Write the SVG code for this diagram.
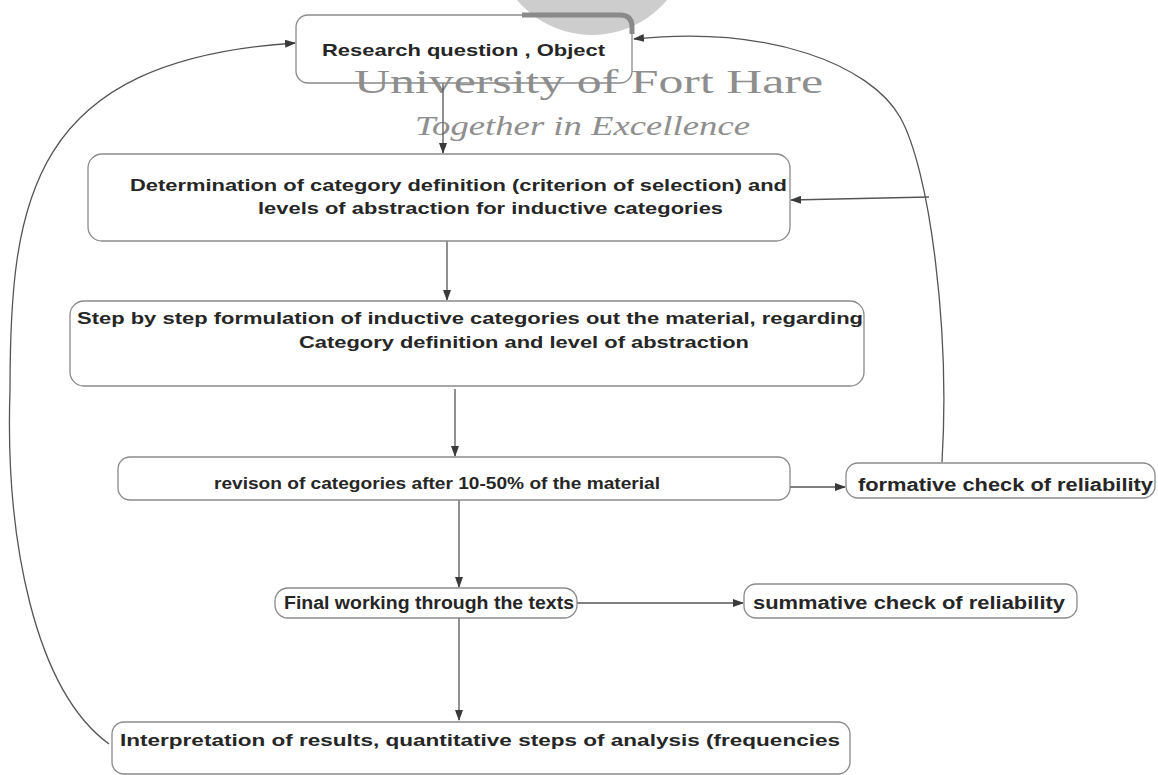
<svg xmlns="http://www.w3.org/2000/svg" width="1158" height="775" viewBox="0 0 1158 775">
<style>
.box{fill:none;stroke:#8a8a8a;stroke-width:1.3}
.t{font-family:"Liberation Sans",Arial,sans-serif;font-weight:bold;font-size:17px;fill:#262626}
.tb{font-size:18px}
.wm{font-family:"Liberation Serif","Times New Roman",serif;fill:#8e8e8e}
.c{fill:none;stroke:#555;stroke-width:1.3}
</style>
<defs>
<marker id="ah" markerUnits="userSpaceOnUse" markerWidth="11" markerHeight="8" refX="10" refY="4" orient="auto">
<path d="M0,0 L11,4 L0,8 z" fill="#3a3a3a"/>
</marker>
</defs>
<rect width="1158" height="775" fill="#ffffff"/>
<g id="watermark">
<circle cx="592" cy="-63" r="98" fill="#cdcdcd"/>
<path d="M522,15 L620,15 Q632,15 632,27 L632,34" fill="none" stroke="#8a8a8a" stroke-width="5"/>
<text class="wm" x="354" y="93" font-size="33" textLength="469" lengthAdjust="spacingAndGlyphs">University of Fort Hare</text>
<text class="wm" x="415" y="135" font-size="28" font-style="italic" textLength="335" lengthAdjust="spacingAndGlyphs">Together in Excellence</text>
</g>
<g id="connectors">
<line class="c" x1="443" y1="83" x2="443" y2="153" marker-end="url(#ah)"/>
<line class="c" x1="447" y1="241" x2="447" y2="300" marker-end="url(#ah)"/>
<line class="c" x1="455" y1="389" x2="455" y2="456" marker-end="url(#ah)"/>
<line class="c" x1="459" y1="500" x2="459" y2="587" marker-end="url(#ah)"/>
<line class="c" x1="459" y1="618" x2="459" y2="720" marker-end="url(#ah)"/>
<line class="c" x1="790" y1="487" x2="845" y2="487" marker-end="url(#ah)"/>
<line class="c" x1="577" y1="603" x2="743" y2="603" marker-end="url(#ah)"/>
<path class="c" d="M942,462 C950,330 930,170 900,117 C870,65 770,25 634,39" marker-end="url(#ah)"/>
<line class="c" x1="929" y1="197" x2="791" y2="200" marker-end="url(#ah)"/>
<path class="c" d="M109,744 C35,690 5,540 10,390 C10,200 30,60 295,43" marker-end="url(#ah)"/>
</g>
<g id="n1">
<rect class="box" x="296" y="15" width="336" height="68" rx="12"/>
<text class="t" x="322" y="56" textLength="283" lengthAdjust="spacingAndGlyphs">Research question , Object</text>
</g>
<g id="n2">
<rect class="box" x="88" y="154" width="702" height="87" rx="14"/>
<text class="t" x="130" y="191" textLength="657" lengthAdjust="spacingAndGlyphs">Determination of category definition (criterion of selection) and</text>
<text class="t" x="258" y="214" textLength="465" lengthAdjust="spacingAndGlyphs">levels of abstraction for inductive categories</text>
</g>
<g id="n3">
<rect class="box" x="70" y="301" width="794" height="85" rx="14"/>
<text class="t" x="77" y="324" textLength="786" lengthAdjust="spacingAndGlyphs">Step by step formulation of inductive categories out the material, regarding</text>
<text class="t" x="299" y="348" textLength="450" lengthAdjust="spacingAndGlyphs">Category definition and level of abstraction</text>
</g>
<g id="n4">
<rect class="box" x="118" y="457" width="672" height="43" rx="12"/>
<text class="t" x="214" y="489" textLength="446" lengthAdjust="spacingAndGlyphs">revison of categories after 10-50% of the material</text>
</g>
<g id="n5">
<rect class="box" x="846" y="463" width="309" height="35" rx="12"/>
<text class="t tb" x="858" y="491" textLength="295" lengthAdjust="spacingAndGlyphs">formative check of reliability</text>
</g>
<g id="n6">
<rect class="box" x="275" y="588" width="302" height="30" rx="13"/>
<text class="t tb" x="284" y="609" textLength="290" lengthAdjust="spacingAndGlyphs">Final working through the texts</text>
</g>
<g id="n7">
<rect class="box" x="744" y="584" width="333" height="34" rx="12"/>
<text class="t tb" x="753" y="609" textLength="312" lengthAdjust="spacingAndGlyphs">summative check of reliability</text>
</g>
<g id="n8">
<rect class="box" x="112" y="722" width="738" height="52" rx="12"/>
<text class="t" x="120" y="746" textLength="720" lengthAdjust="spacingAndGlyphs">Interpretation of results, quantitative steps of analysis (frequencies</text>
</g>
</svg>
